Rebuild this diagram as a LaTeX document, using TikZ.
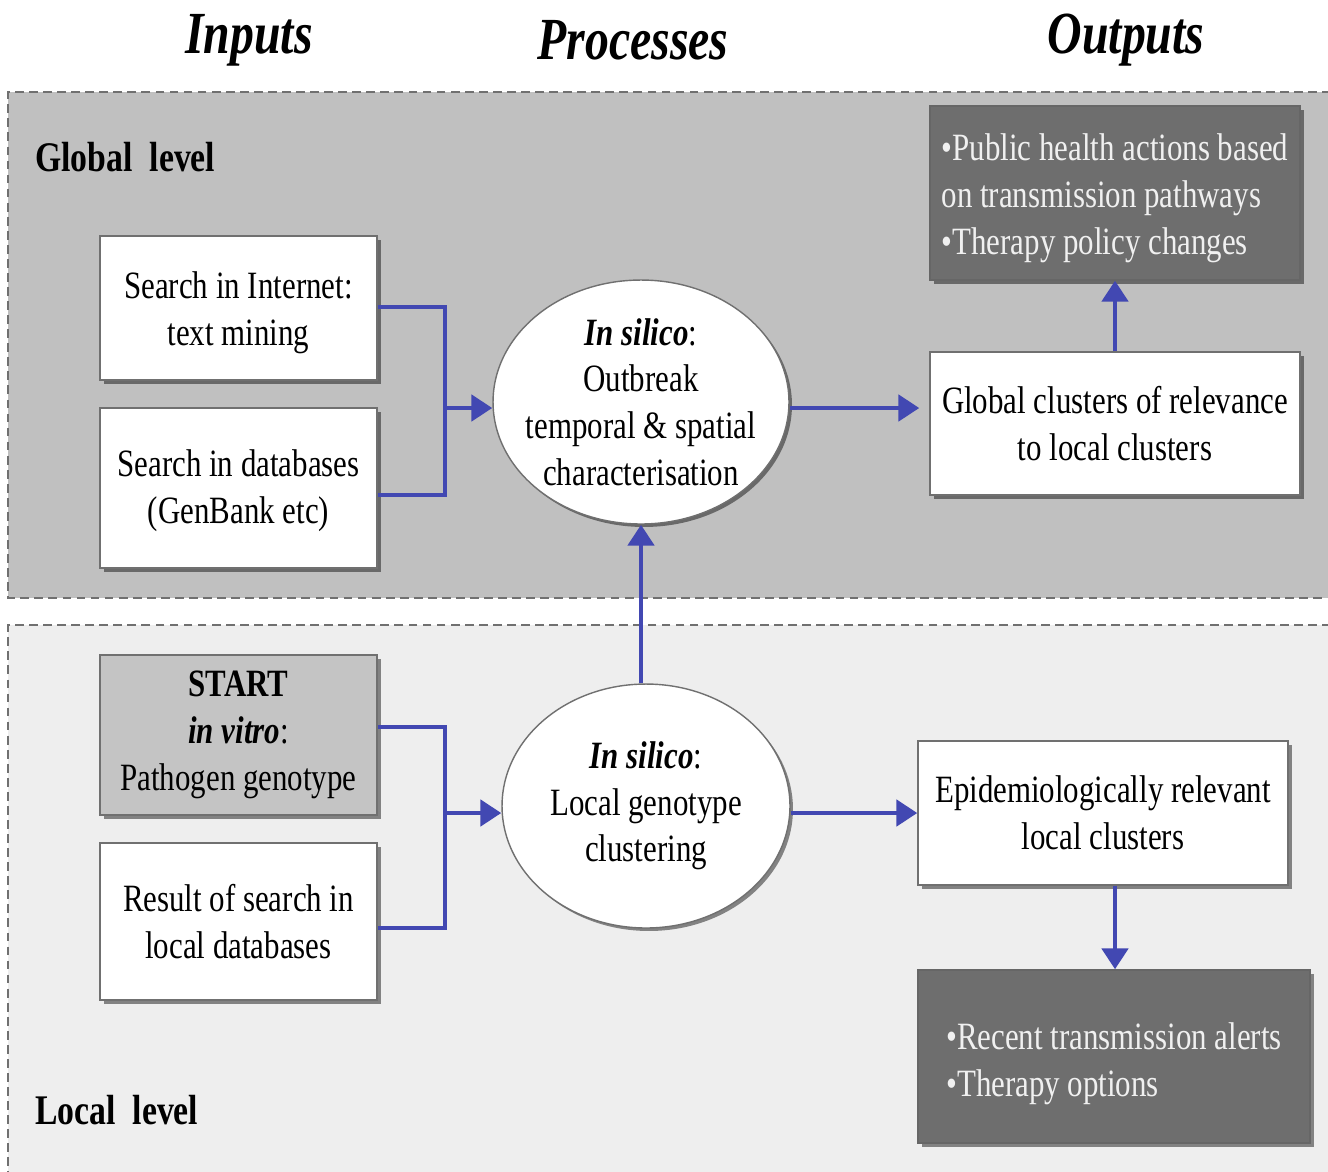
\documentclass[tikz,border=0pt]{standalone}
\usepackage{fontspec}
\setmainfont{Liberation Serif}[FakeStretch=0.8]
\usetikzlibrary{arrows.meta,shadows,shapes.geometric}
\definecolor{conn}{RGB}{66,72,178}
\definecolor{globalbg}{RGB}{192,192,192}
\definecolor{localbg}{RGB}{238,238,238}
\definecolor{darkbox}{RGB}{110,110,110}
\definecolor{startbg}{RGB}{196,196,196}
\definecolor{edge}{RGB}{112,112,112}
\newcommand{\lowertext}[2]{\raisebox{-#1}[\height][\depth]{#2}}
\tikzset{
  txt/.style={font=\fontsize{22}{26.6}\selectfont},
  boxbase/.style={rectangle, draw=edge, line width=0.8pt, inner sep=0pt, align=center, txt,
    drop shadow={shadow xshift=0.08cm, shadow yshift=-0.08cm, fill=black, opacity=0.45}},
  whitebox/.style={boxbase, fill=white},
  startbox/.style={boxbase, fill=startbg},
  darkbx/.style={boxbase, fill=darkbox, text=white!94!black, draw=black!60},
  procell/.style={ellipse, draw=edge, line width=0.8pt, fill=white, inner sep=-0.3cm, align=center, txt,
    drop shadow={shadow xshift=0.06cm, shadow yshift=-0.06cm, fill=black, opacity=0.45}},
  wire/.style={draw=conn, line width=2.8pt},
  arr/.style={wire, -{Triangle[length=0.42cm,width=0.52cm]}},
  header/.style={font=\fontsize{34}{40}\selectfont\bfseries\itshape},
  levellabel/.style={font=\fontsize{24}{28}\selectfont\bfseries, anchor=west, inner sep=0pt},
  region/.style={draw=edge, dashed, line width=0.8pt, dash pattern=on 5pt off 3pt}
}
\begin{document}
\begin{tikzpicture}[x=0.02cm,y=-0.02cm]
\useasboundingbox (0,0) rectangle (1328,1171);
\fill[white] (0,0) rectangle (1328,1171);
% regions
\fill[globalbg] (8,92) rectangle (1345,598);
\draw[region] (1345,92) -- (8,92) -- (8,598) -- (1345,598);
\fill[localbg] (8,625) rectangle (1345,1190);
\draw[region] (1345,625) -- (8,625) -- (8,1190);
% headers
\node[header] (hin) at (249,40) {Inputs};
\node[header] (hpr) at (633,40) {Processes};
\node[header] (hout) at (1126,40) {Outputs};
% level labels
\node[levellabel] (glab) at (35,157) {Global\ \ level};
\node[levellabel] (llab) at (35,1110) {Local\ \ level};
% global nodes
\node[whitebox, minimum width=5.54cm, minimum height=2.88cm] (A) at (238.5,308) {\lowertext{0.1cm}{\begin{tabular}{@{}c@{}}Search in Internet:\\text mining\end{tabular}}};
\node[whitebox, minimum width=5.54cm, minimum height=3.2cm] (B) at (238.5,488) {\lowertext{0.06cm}{\begin{tabular}{@{}c@{}}Search in databases\\(GenBank etc)\end{tabular}}};
\node[procell, minimum width=5.92cm, minimum height=4.88cm] (E1) at (641,402) {\textbf{\textit{In silico}}:\\Outbreak\\temporal \& spatial\\characterisation};
\node[whitebox, minimum width=7.4cm, minimum height=2.86cm] (C) at (1115,423.5) {Global clusters of relevance\\to local clusters};
\node[darkbx, minimum width=7.4cm, minimum height=3.48cm] (D) at (1115,193) {\lowertext{0.1cm}{\begin{tabular}{@{}l@{}}•Public health actions based\\on transmission pathways\\•Therapy policy changes\end{tabular}}};
% local nodes
\node[startbox, minimum width=5.54cm, minimum height=3.2cm] (S) at (238.5,735) {\textbf{START}\\\textbf{\textit{in vitro}}:\\Pathogen genotype};
\node[whitebox, minimum width=5.54cm, minimum height=3.14cm] (F) at (238.5,921.5) {Result of search in\\local databases};
\node[procell, minimum width=5.76cm, minimum height=4.88cm] (E2) at (646,806) {\textbf{\textit{In silico}}:\\Local genotype\\clustering};
\node[whitebox, minimum width=7.4cm, minimum height=2.88cm] (G) at (1103,813) {Epidemiologically relevant\\local clusters};
\node[darkbx, minimum width=7.84cm, minimum height=3.46cm] (H) at (1114,1056.5) {\lowertext{0.14cm}{\begin{tabular}{@{}l@{}}•Recent transmission alerts\\•Therapy options\end{tabular}}};
% junctions
\coordinate (j1) at (445,408);
\coordinate (j2) at (445,813);
% connectors global
\draw[wire] ([yshift=0.02cm]A.east) -| (j1) |- ([yshift=-0.14cm]B.east);
\draw[arr] (j1) -- (j1 -| E1.west);
\draw[arr] ([yshift=-0.12cm]E1.east) -- ([yshift=-0.12cm,xshift=-0.2cm]E1.east -| C.west);
\draw[arr] (C.north) -- (D.south);
% connectors local
\draw[wire] ([yshift=0.16cm]S.east) -| (j2) |- ([yshift=-0.13cm]F.east);
\draw[arr] (j2) -- (j2 -| E2.west);
\draw[arr] ([yshift=-0.14cm]E2.east) -- ([yshift=-0.14cm]E2.east -| G.west);
\draw[arr] (E1.south |- E2.north) -- (E1.south);
\draw[arr] ([xshift=0.24cm]G.south) -- ([xshift=0.24cm]G.south |- H.north);
\end{tikzpicture}
\end{document}
